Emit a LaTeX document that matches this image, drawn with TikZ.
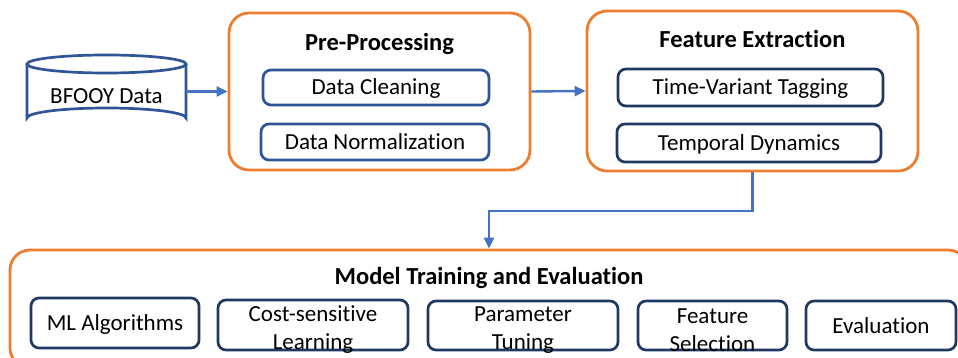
\documentclass[tikz,border=0pt]{standalone}
\usepackage{fontspec}
\setmainfont{Carlito}[Ligatures={NoCommon}]
\usetikzlibrary{arrows.meta}
\definecolor{stageorange}{HTML}{ED7D31}
\definecolor{midblue}{HTML}{2F5597}
\definecolor{navy}{HTML}{1F3864}
\definecolor{linkblue}{HTML}{4472C4}
\tikzset{
  stage/.style={draw=stageorange, line width=2.8pt, rounded corners=20pt, inner sep=0pt},
  title/.style={font=\fontsize{24.5}{29}\selectfont\bfseries, anchor=base, inner sep=0pt},
  taskbox/.style={draw=#1, line width=2.7pt, rounded corners=8pt, inner sep=0pt,
    font=\fontsize{23}{28}\selectfont, align=center, text height=15pt, text depth=-1pt},
  tasktext/.style={font=\fontsize{23}{28}\selectfont, align=center, inner sep=0pt},
  dbline/.style={draw=midblue, line width=2.7pt},
  link/.style={draw=linkblue, line width=2.4pt, -{Triangle[length=11pt,width=10pt]}},
}
\begin{document}
\begin{tikzpicture}[x=1pt, y=-1pt]
\useasboundingbox (0,0) rectangle (958,358);
\clip (0,0) rectangle (958,358);

% data source (cylinder)
\node[minimum width=159pt, minimum height=73pt, inner sep=0pt] (db) at (106.5,91.5) {};
\draw[dbline] (106.5,64) ellipse[x radius=79.5pt, y radius=9pt];
\draw[dbline] (27,64) -- (27,118)
  arc[start angle=180, end angle=0, x radius=79.5pt, y radius=10pt] -- (186,64);
\node[tasktext, anchor=base] (dbtext) at (106.5,104) {BFOOY Data};

% pre-processing stage
\node[stage, minimum width=301pt, minimum height=157pt] (pre) at (379.5,91.5) {};
\node[title] (pretitle) at ([yshift=-38.5pt]pre.north) {Pre-Processing};
\node[taskbox=midblue, minimum width=226pt, minimum height=35pt] (clean) at (376,87.5) {Data Cleaning};
\node[taskbox=midblue, minimum width=228pt, minimum height=36pt] (norm) at (375,142) {Data Normalization};

% feature extraction stage
\node[stage, minimum width=331pt, minimum height=160pt] (feat) at (752.5,91) {};
\node[title] (feattitle) at ([yshift=-37.5pt]feat.north) {Feature Extraction};
\node[taskbox=navy, minimum width=265pt, minimum height=37pt] (tvt) at (750.5,87.5) {Time-Variant Tagging};
\node[taskbox=navy, minimum width=264pt, minimum height=38pt] (temp) at (749,143) {Temporal Dynamics};

% model training stage
\node[stage, minimum width=958pt, minimum height=118pt] (model) at (489,309) {};
\node[title] (modeltitle) at ([yshift=-36pt]model.north) {Model Training and Evaluation};
\node[taskbox=navy, text depth=-4pt, minimum width=168pt, minimum height=50pt] (ml) at (115,323) {ML Algorithms};
\node[taskbox=navy, minimum width=190pt, minimum height=50pt] (cs) at (313,325) {};
\node[tasktext] (cstext) at ([yshift=-5pt]cs.center) {Cost-sensitive\\Learning};
\node[taskbox=navy, minimum width=190pt, minimum height=49pt] (pt) at (523,325.5) {};
\node[tasktext] (pttext) at ([yshift=-5pt]pt.center) {Parameter\\Tuning};
\node[taskbox=navy, minimum width=149pt, minimum height=49pt] (fs) at (712.5,325.5) {};
\node[tasktext] (fstext) at ([yshift=-5pt]fs.center) {Feature\\Selection};
\node[taskbox=navy, text depth=-3pt, minimum width=150pt, minimum height=49pt] (ev) at (881,325.5) {Evaluation};

% connectors
\coordinate (bend) at (489,211);
\draw[link] (db.east) -- (pre.west);
\draw[link] (pre.east) -- (feat.west);
\draw[link] (feat.south) |- (bend) -- (bend |- model.north);
\end{tikzpicture}
\end{document}
